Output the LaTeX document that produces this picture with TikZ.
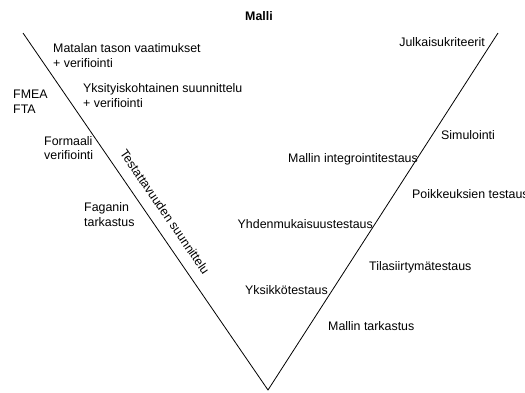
\documentclass[tikz,border=0pt]{standalone}
\usepackage{fontspec}
\setmainfont{Liberation Sans}
\begin{document}
\begin{tikzpicture}[x=1pt,y=1pt,
  lbl/.style={inner sep=0pt, font=\fontsize{12.4}{14.5}\selectfont, align=left},
  vline/.style={line width=0.8pt, line join=miter}]
\useasboundingbox (0,0) rectangle (525,-392);
% V shape
\coordinate (top left) at (23,-33);
\coordinate (bottom) at (268,-390);
\coordinate (top right) at (498,-33);
\draw[vline] (top left) -- (bottom) -- (top right);

% title
\node[lbl, anchor=base, font=\fontsize{12.4}{14.5}\selectfont\bfseries] (title) at (259,-20.5) {Malli};

% left branch (two-line labels are anchored at the baseline of their last line)
\node[lbl, anchor=base west] (req) at (53,-67) {Matalan tason vaatimukset\\+ verifiointi};
\node[lbl, anchor=base west] (design) at (83,-107) {Yksityiskohtainen suunnittelu\\+ verifiointi};
\node[lbl, anchor=base west] (fmea) at (13,-113) {FMEA\\FTA};
\node[lbl, anchor=base west] (formal) at (44,-159.5) {Formaali\\verifiointi};
\node[lbl, anchor=base west] (fagan) at (84,-226) {Faganin\\tarkastus};
\node[lbl, rotate=-55.5] (testab) at (165,-212) {Testattavuuden suunnittelu};

% right branch
\node[lbl, anchor=base east] (release) at (485,-46.5) {Julkaisukriteerit};
\node[lbl, anchor=base west] (sim) at (441,-139.5) {Simulointi};
\node[lbl, anchor=base east] (integ) at (418,-162.5) {Mallin integrointitestaus};
\node[lbl, anchor=base west] (except) at (412,-198) {Poikkeuksien testaus};
\node[lbl, anchor=base east] (conform) at (373,-228.5) {Yhdenmukaisuustestaus};
\node[lbl, anchor=base west] (state) at (369,-270.5) {Tilasiirtymätestaus};
\node[lbl, anchor=base east] (unit) at (328,-294.5) {Yksikkötestaus};
\node[lbl, anchor=base west] (review) at (328,-330.5) {Mallin tarkastus};
\end{tikzpicture}
\end{document}
